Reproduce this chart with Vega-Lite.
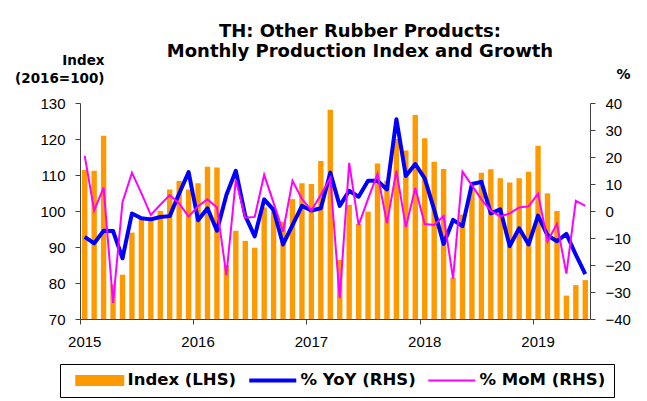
{
  "$schema": "https://vega.github.io/schema/vega-lite/v6.json",
  "width": 510,
  "height": 216,
  "autosize": {"type": "none"},
  "padding": {"left": 80, "top": 103, "right": 57, "bottom": 82},
  "background": "white",
  "title": {
    "text": ["TH: Other Rubber Products:", "Monthly Production Index and Growth"],
    "anchor": "middle",
    "frame": "group",
    "font": "DejaVu Sans",
    "fontSize": 18,
    "fontWeight": "bold",
    "color": "black",
    "lineHeight": 20,
    "offset": -8,
    "dx": 25
  },
  "data": {
    "values": [
      {"m": "2015-01", "idx": 111.4, "yoy": -9.6, "mom": 20.4},
      {"m": "2015-02", "idx": 111.2, "yoy": -12.0, "mom": 0.2},
      {"m": "2015-03", "idx": 120.9, "yoy": -7.3, "mom": 8.7},
      {"m": "2015-04", "idx": 79.6, "yoy": -7.4, "mom": -34.0},
      {"m": "2015-05", "idx": 82.3, "yoy": -17.5, "mom": 3.3},
      {"m": "2015-06", "idx": 94.0, "yoy": -0.9, "mom": 14.2},
      {"m": "2015-07", "idx": 98.0, "yoy": -2.7, "mom": 6.6},
      {"m": "2015-08", "idx": 98.4, "yoy": -3.1, "mom": -1.5},
      {"m": "2015-09", "idx": 100.0, "yoy": -2.2, "mom": 2.3},
      {"m": "2015-10", "idx": 106.0, "yoy": -1.9, "mom": 5.9},
      {"m": "2015-11", "idx": 108.3, "yoy": 6.5, "mom": 2.8},
      {"m": "2015-12", "idx": 106.0, "yoy": 14.4, "mom": -2.1},
      {"m": "2016-01", "idx": 107.7, "yoy": -3.4, "mom": 1.8},
      {"m": "2016-02", "idx": 112.3, "yoy": 1.0, "mom": 4.3},
      {"m": "2016-03", "idx": 112.1, "yoy": -7.3, "mom": 1.3},
      {"m": "2016-04", "idx": 85.0, "yoy": 5.9, "mom": -23.8},
      {"m": "2016-05", "idx": 94.5, "yoy": 14.9, "mom": 11.5},
      {"m": "2016-06", "idx": 91.7, "yoy": -1.8, "mom": -2.5},
      {"m": "2016-07", "idx": 89.8, "yoy": -9.4, "mom": -2.2},
      {"m": "2016-08", "idx": 101.0, "yoy": 4.3, "mom": 13.4},
      {"m": "2016-09", "idx": 101.0, "yoy": 0.4, "mom": 3.0},
      {"m": "2016-10", "idx": 97.0, "yoy": -12.4, "mom": -7.7},
      {"m": "2016-11", "idx": 103.3, "yoy": -5.2, "mom": 11.2},
      {"m": "2016-12", "idx": 107.7, "yoy": 1.9, "mom": 4.5},
      {"m": "2017-01", "idx": 107.5, "yoy": 0.2, "mom": 0.2},
      {"m": "2017-02", "idx": 113.9, "yoy": 1.0, "mom": 6.0},
      {"m": "2017-03", "idx": 128.1, "yoy": 14.2, "mom": 12.3},
      {"m": "2017-04", "idx": 86.4, "yoy": 1.9, "mom": -32.3},
      {"m": "2017-05", "idx": 101.7, "yoy": 7.5, "mom": 17.8},
      {"m": "2017-06", "idx": 96.4, "yoy": 5.3, "mom": -5.2},
      {"m": "2017-07", "idx": 99.8, "yoy": 11.2, "mom": 4.5},
      {"m": "2017-08", "idx": 113.2, "yoy": 11.2, "mom": 13.7},
      {"m": "2017-09", "idx": 108.4, "yoy": 8.0, "mom": -4.5},
      {"m": "2017-10", "idx": 120.0, "yoy": 34.0, "mom": 14.9},
      {"m": "2017-11", "idx": 116.8, "yoy": 13.0, "mom": -6.0},
      {"m": "2017-12", "idx": 126.7, "yoy": 17.4, "mom": 8.5},
      {"m": "2018-01", "idx": 120.2, "yoy": 12.1, "mom": -4.8},
      {"m": "2018-02", "idx": 113.7, "yoy": 0.5, "mom": -5.2},
      {"m": "2018-03", "idx": 111.7, "yoy": -12.2, "mom": -1.9},
      {"m": "2018-04", "idx": 81.5, "yoy": -3.3, "mom": -25.0},
      {"m": "2018-05", "idx": 99.0, "yoy": -5.6, "mom": 14.6},
      {"m": "2018-06", "idx": 106.0, "yoy": 10.0, "mom": 9.5},
      {"m": "2018-07", "idx": 110.6, "yoy": 10.8, "mom": 4.3},
      {"m": "2018-08", "idx": 111.6, "yoy": -0.9, "mom": 0.1},
      {"m": "2018-09", "idx": 109.1, "yoy": 0.6, "mom": -2.0},
      {"m": "2018-10", "idx": 107.9, "yoy": -13.0, "mom": -0.9},
      {"m": "2018-11", "idx": 109.1, "yoy": -6.4, "mom": 1.3},
      {"m": "2018-12", "idx": 110.9, "yoy": -12.4, "mom": 1.7},
      {"m": "2019-01", "idx": 118.1, "yoy": -1.7, "mom": 6.4},
      {"m": "2019-02", "idx": 104.9, "yoy": -9.0, "mom": -11.2},
      {"m": "2019-03", "idx": 100.0, "yoy": -11.2, "mom": -4.8},
      {"m": "2019-04", "idx": 76.5, "yoy": -8.5, "mom": -23.2},
      {"m": "2019-05", "idx": 79.4, "yoy": -16.2, "mom": 3.8},
      {"m": "2019-06", "idx": 80.8, "yoy": -23.4, "mom": 1.9}
    ]
  },
  "encoding": {
    "x": {
      "field": "m",
      "type": "ordinal",
      "sort": null,
      "scale": {"type": "band", "paddingInner": 0.43, "paddingOuter": 0.215},
      "axis": {
        "title": null,
        "values": ["2015-01", "2016-01", "2017-01", "2018-01", "2019-01"],
        "labelExpr": "substring(datum.value, 0, 4)",
        "bandPosition": -0.377,
        "labelAngle": 0,
        "labelPadding": 10,
        "tickSize": 5,
        "domainColor": "#404040",
        "tickColor": "#404040"
      }
    }
  },
  "layer": [
    {
      "mark": {"type": "bar"},
      "encoding": {
        "y": {
          "field": "idx",
          "type": "quantitative",
          "scale": {"domain": [70, 130], "zero": false, "nice": false},
          "axis": {
            "orient": "left",
            "values": [70, 80, 90, 100, 110, 120, 130],
            "title": ["Index", "(2016=100)"],
            "titleAngle": 0,
            "titleAlign": "right",
            "titleBaseline": "alphabetic",
            "titleX": 24,
            "titleY": -39,
            "titleLineHeight": 18,
            "titleFont": "DejaVu Sans",
            "titleFontSize": 13.5,
            "titleFontWeight": "bold",
            "tickSize": 5,
            "labelPadding": 10,
            "domainColor": "#404040",
            "tickColor": "#404040"
          }
        },
        "y2": {"datum": 70},
        "color": {
          "datum": "Index (LHS)",
          "scale": {
            "domain": ["Index (LHS)", "% YoY (RHS)", "% MoM (RHS)"],
            "range": ["#FF9900", "#0000FF", "#FF00FF"]
          },
          "legend": {
            "title": null,
            "orient": "none",
            "legendX": -20,
            "legendY": 261,
            "direction": "horizontal",
            "columnPadding": 4,
            "padding": 8,
            "strokeColor": "black",
            "fillColor": "white",
            "symbolSize": 256,
            "labelOffset": 43,
            "labelFont": "DejaVu Sans",
            "labelFontSize": 16.5,
            "labelFontWeight": "bold",
            "labelColor": "black",
            "encode": {
              "symbols": {
                "update": {
                  "shape": {"signal": "datum.value === 'Index (LHS)' ? 'M0,-0.5625H5.875V0.5625H0Z' : 'M0,0H5.875'"},
                  "fill": {"signal": "datum.value === 'Index (LHS)' ? '#FF9900' : 'transparent'"},
                  "stroke": {"signal": "datum.value === 'Index (LHS)' ? 'transparent' : (datum.value === '% YoY (RHS)' ? '#0000FF' : '#FF00FF')"},
                  "strokeWidth": {"signal": "datum.value === '% YoY (RHS)' ? 4 : 2"},
                  "opacity": {"value": 1},
                  "fillOpacity": {"value": 1},
                  "strokeOpacity": {"value": 1}
                }
              }
            }
          }
        }
      }
    },
    {
      "layer": [
        {
          "mark": {"type": "rule", "color": "#FF0000", "strokeWidth": 2, "strokeDash": [6, 4]},
          "encoding": {
            "y": {
              "datum": 0,
              "type": "quantitative",
              "scale": {"domain": [-40, 40], "zero": false, "nice": false},
              "axis": {
                "orient": "right",
                "values": [-40, -30, -20, -10, 0, 10, 20, 30, 40],
                "title": "%",
                "titleAngle": 0,
                "titleAlign": "center",
                "titleBaseline": "alphabetic",
                "titleX": 33,
                "titleY": -25,
                "titleFont": "DejaVu Sans",
                "titleFontSize": 14,
                "titleFontWeight": "bold",
                "tickSize": 5,
                "labelPadding": 10,
                "domainColor": "#404040",
                "tickColor": "#404040"
              }
            }
          }
        },
        {
          "mark": {"type": "line", "strokeWidth": 4, "strokeJoin": "round"},
          "encoding": {
            "y": {
              "field": "yoy",
              "type": "quantitative",
              "scale": {"domain": [-40, 40], "zero": false, "nice": false},
              "axis": {
                "orient": "right",
                "values": [-40, -30, -20, -10, 0, 10, 20, 30, 40],
                "title": "%",
                "titleAngle": 0,
                "titleAlign": "center",
                "titleBaseline": "alphabetic",
                "titleX": 33,
                "titleY": -25,
                "titleFont": "DejaVu Sans",
                "titleFontSize": 14,
                "titleFontWeight": "bold",
                "tickSize": 5,
                "labelPadding": 10,
                "domainColor": "#404040",
                "tickColor": "#404040"
              }
            },
            "color": {"datum": "% YoY (RHS)"}
          }
        },
        {
          "mark": {"type": "line", "strokeWidth": 2},
          "encoding": {
            "y": {
              "field": "mom",
              "type": "quantitative",
              "scale": {"domain": [-40, 40], "zero": false, "nice": false},
              "axis": {
                "orient": "right",
                "values": [-40, -30, -20, -10, 0, 10, 20, 30, 40],
                "title": "%",
                "titleAngle": 0,
                "titleAlign": "center",
                "titleBaseline": "alphabetic",
                "titleX": 33,
                "titleY": -25,
                "titleFont": "DejaVu Sans",
                "titleFontSize": 14,
                "titleFontWeight": "bold",
                "tickSize": 5,
                "labelPadding": 10,
                "domainColor": "#404040",
                "tickColor": "#404040"
              }
            },
            "color": {"datum": "% MoM (RHS)"}
          }
        }
      ]
    }
  ],
  "resolve": {"scale": {"y": "independent"}, "axis": {"y": "independent"}},
  "config": {
    "view": {"stroke": null},
    "font": "Liberation Sans",
    "axis": {
      "labelFont": "Liberation Sans",
      "labelFontSize": 15,
      "labelColor": "black",
      "titleFont": "Liberation Sans",
      "titleColor": "black",
      "grid": false
    }
  }
}
